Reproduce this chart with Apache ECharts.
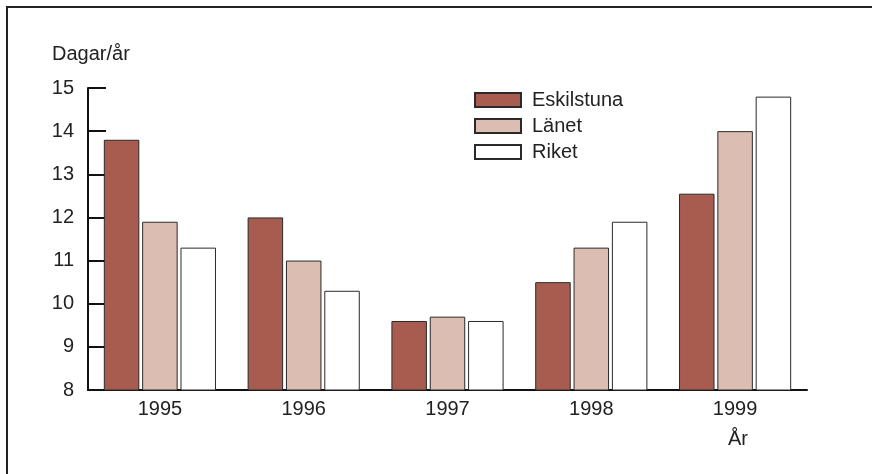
<!DOCTYPE html>
<html>
<head>
<meta charset="utf-8">
<script src="https://cdn.jsdelivr.net/npm/echarts@6/dist/echarts.min.js"></script>
<style>
  html, body { margin: 0; padding: 0; background: #fff; }
  #chart { width: 872px; height: 474px; }
</style>
</head>
<body>
<div id="chart"></div>
<script>
// data
const years = ["1995", "1996", "1997", "1998", "1999"];
const eskilstuna = [13.8, 12.0, 9.6, 10.5, 12.55];
const lanet = [11.9, 11.0, 9.7, 11.3, 14.0];
const riket = [11.3, 10.3, 9.6, 11.9, 14.8];

const chart = echarts.init(document.getElementById("chart"));
const font = "Liberation Sans, Arial, sans-serif";
const txt = "#222";
const barBorder = { borderColor: "#2a2a2a", borderWidth: 1 };

const option = {
  animation: false,
  textStyle: { fontFamily: font },
  graphic: [
    // frame: only top and left edges are visible
    {
      type: "line",
      shape: { x1: 6, y1: 7, x2: 872, y2: 7 },
      style: { stroke: "#222", lineWidth: 2 },
    },
    {
      type: "line",
      shape: { x1: 7, y1: 6, x2: 7, y2: 474 },
      style: { stroke: "#222", lineWidth: 2 },
    },
    {
      type: "text",
      left: 52,
      top: 44,
      style: { text: "Dagar/år", fontSize: 20, fill: txt, fontFamily: font },
    },
    {
      type: "text",
      left: 728,
      top: 429,
      style: { text: "År", fontSize: 20, fill: txt, fontFamily: font },
    },
  ],
  legend: {
    orient: "vertical",
    left: 469,
    top: 85,
    itemWidth: 46,
    itemHeight: 14,
    itemGap: 6,
    icon: "rect",
    textStyle: { fontSize: 20, lineHeight: 20, color: txt, fontFamily: font, padding: [0, 0, 0, 6] },
    data: ["Eskilstuna", "Länet", "Riket"],
  },
  grid: { left: 88, right: 65, top: 88, bottom: 84 },
  xAxis: {
    type: "category",
    data: years,
    axisLine: { lineStyle: { color: "#111", width: 2 } },
    axisTick: { inside: true, length: 6, lineStyle: { width: 2, color: "#111" } },
    axisLabel: { fontSize: 20, color: txt, margin: 9 },
  },
  yAxis: {
    type: "value",
    min: 8,
    max: 15,
    interval: 1,
    splitLine: { show: false },
    axisLine: { show: true, lineStyle: { color: "#111", width: 2 } },
    axisTick: { show: true, inside: true, length: 18, lineStyle: { width: 2, color: "#111" } },
    axisLabel: { fontSize: 20, color: txt, margin: 14 },
  },
  series: [
    {
      name: "Eskilstuna",
      type: "bar",
      data: eskilstuna,
      barGap: "8%",
      barCategoryGap: "22%",
      itemStyle: Object.assign({ color: "#a85c4f" }, barBorder),
    },
    {
      name: "Länet",
      type: "bar",
      data: lanet,
      itemStyle: Object.assign({ color: "#dcbdb1" }, barBorder),
    },
    {
      name: "Riket",
      type: "bar",
      data: riket,
      itemStyle: Object.assign({ color: "#ffffff" }, barBorder),
    },
  ],
};
chart.setOption(option);
</script>
</body>
</html>
